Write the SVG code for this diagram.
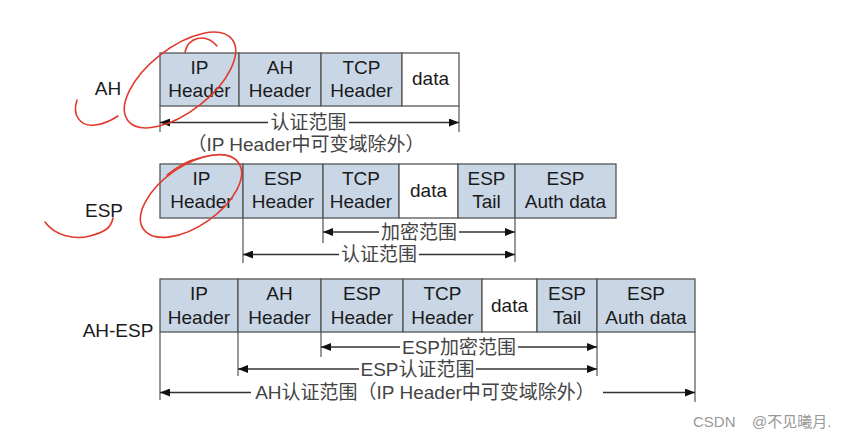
<svg xmlns="http://www.w3.org/2000/svg" width="859" height="447" viewBox="0 0 859 447">
<style>
.cell{fill:#c9d6e6;stroke:#555;stroke-width:1.3}
.white{fill:#fff;stroke:#555;stroke-width:1.3}
.t{font-family:"Liberation Sans","Noto Sans CJK SC",sans-serif;font-size:19px;fill:#1a1a1a;text-anchor:middle}
.lbl{font-family:"Liberation Sans","Noto Sans CJK SC",sans-serif;font-size:19px;fill:#1a1a1a;text-anchor:middle}
.r{font-family:"Liberation Sans","Noto Sans CJK SC",sans-serif;font-size:19px;fill:#444;text-anchor:middle}
.v{stroke:#555;stroke-width:1.2;fill:none}
.a{stroke:#333;stroke-width:1.3;fill:none;marker-end:url(#arr)}
.red{fill:none;stroke:#e2392d;stroke-width:1.6;stroke-linecap:round}
.wm{font-family:"Liberation Sans","Noto Sans CJK SC",sans-serif;font-size:15px;fill:#999}
</style>
<defs>
<marker id="arr" viewBox="0 0 10 8" refX="10" refY="4" markerWidth="10" markerHeight="8" markerUnits="userSpaceOnUse" orient="auto">
<path d="M0,0 L10,4 L0,8 z" fill="#111"/>
</marker>
</defs>
<rect width="859" height="447" fill="#fff"/>

<g id="row-ah">
<text class="lbl" x="108" y="95">AH</text>
<rect class="cell" x="160" y="53" width="79" height="53"/>
<text class="t" x="199.5" y="74">IP</text><text class="t" x="199.5" y="97">Header</text>
<rect class="cell" x="239" y="53" width="82" height="53"/>
<text class="t" x="280" y="74">AH</text><text class="t" x="280" y="97">Header</text>
<rect class="cell" x="321" y="53" width="81" height="53"/>
<text class="t" x="361.5" y="74">TCP</text><text class="t" x="361.5" y="97">Header</text>
<rect class="white" x="402" y="53" width="57" height="53"/>
<text class="t" x="430.5" y="85">data</text>
</g>

<g id="row-esp">
<text class="lbl" x="104" y="217">ESP</text>
<rect class="cell" x="160" y="164" width="83" height="54"/>
<text class="t" x="201.5" y="185">IP</text><text class="t" x="201.5" y="208">Header</text>
<rect class="cell" x="243" y="164" width="80" height="54"/>
<text class="t" x="283" y="185">ESP</text><text class="t" x="283" y="208">Header</text>
<rect class="cell" x="323" y="164" width="76" height="54"/>
<text class="t" x="361" y="185">TCP</text><text class="t" x="361" y="208">Header</text>
<rect class="white" x="399" y="164" width="59" height="54"/>
<text class="t" x="428.5" y="197">data</text>
<rect class="cell" x="458" y="164" width="57" height="54"/>
<text class="t" x="486.5" y="185">ESP</text><text class="t" x="486.5" y="208">Tail</text>
<rect class="cell" x="515" y="164" width="101" height="54"/>
<text class="t" x="565.5" y="185">ESP</text><text class="t" x="565.5" y="208">Auth data</text>
</g>

<g id="row-ah-esp">
<text class="lbl" x="118" y="337">AH-ESP</text>
<rect class="cell" x="160" y="279" width="78" height="53"/>
<text class="t" x="199" y="300">IP</text><text class="t" x="199" y="324">Header</text>
<rect class="cell" x="238" y="279" width="83" height="53"/>
<text class="t" x="279.5" y="300">AH</text><text class="t" x="279.5" y="324">Header</text>
<rect class="cell" x="321" y="279" width="82" height="53"/>
<text class="t" x="362" y="300">ESP</text><text class="t" x="362" y="324">Header</text>
<rect class="cell" x="403" y="279" width="79" height="53"/>
<text class="t" x="442.5" y="300">TCP</text><text class="t" x="442.5" y="324">Header</text>
<rect class="white" x="482" y="279" width="55" height="53"/>
<text class="t" x="509.5" y="312">data</text>
<rect class="cell" x="537" y="279" width="60" height="53"/>
<text class="t" x="567" y="300">ESP</text><text class="t" x="567" y="324">Tail</text>
<rect class="cell" x="597" y="279" width="98" height="53"/>
<text class="t" x="646" y="300">ESP</text><text class="t" x="646" y="324">Auth data</text>
</g>

<g id="connectors">
<path class="v" d="M160,106V132M459,106V132"/>
<path class="a" d="M268,122.5H160"/><path class="a" d="M349,122.5H459"/>
<path class="v" d="M243,218V263M323,218V243M515,218V262"/>
<path class="a" d="M379,232H323"/><path class="a" d="M459,232H515"/>
<path class="a" d="M339,254.5H243"/><path class="a" d="M419,254.5H515"/>
<path class="v" d="M160,332V400M238,332V376M321,332V357M597,332V376M695,332V402"/>
<path class="a" d="M400,347H321"/><path class="a" d="M518,347H597"/>
<path class="a" d="M359,369H238"/><path class="a" d="M476,369H597"/>
<path class="a" d="M251,392.5H160"/><path class="a" d="M603,392.5H695"/>
</g>

<g id="range-labels">
<text class="r" x="308.5" y="129">认证范围</text>
<text class="r" x="306" y="151">（IP Header中可变域除外）</text>
<text class="r" x="419" y="238.5">加密范围</text>
<text class="r" x="379" y="261">认证范围</text>
<text class="r" x="459" y="353.5">ESP加密范围</text>
<text class="r" x="417.5" y="375.5">ESP认证范围</text>
<text class="r" x="425" y="399">AH认证范围（IP Header中可变域除外）</text>
</g>

<g id="annotations">
<ellipse class="red" cx="180" cy="80" rx="66" ry="32" transform="rotate(-38 180 80)"/>
<path class="red" d="M185,52 C188,38 205,32 217,46"/>
<path class="red" d="M77,100 C72,115 80,127 95,125 C105,124 112,120 118,116"/>
<ellipse class="red" cx="191" cy="196" rx="58" ry="30" transform="rotate(-35 191 196)"/>
<path class="red" d="M167,175 C178,166 190,160 200,158"/>
<path class="red" d="M45,222 C55,236 75,240 90,236 C105,232 111,228 113,218"/>
</g>

<text class="wm" x="693" y="427">CSDN<tspan x="752">@不见曦月.</tspan></text>
</svg>
